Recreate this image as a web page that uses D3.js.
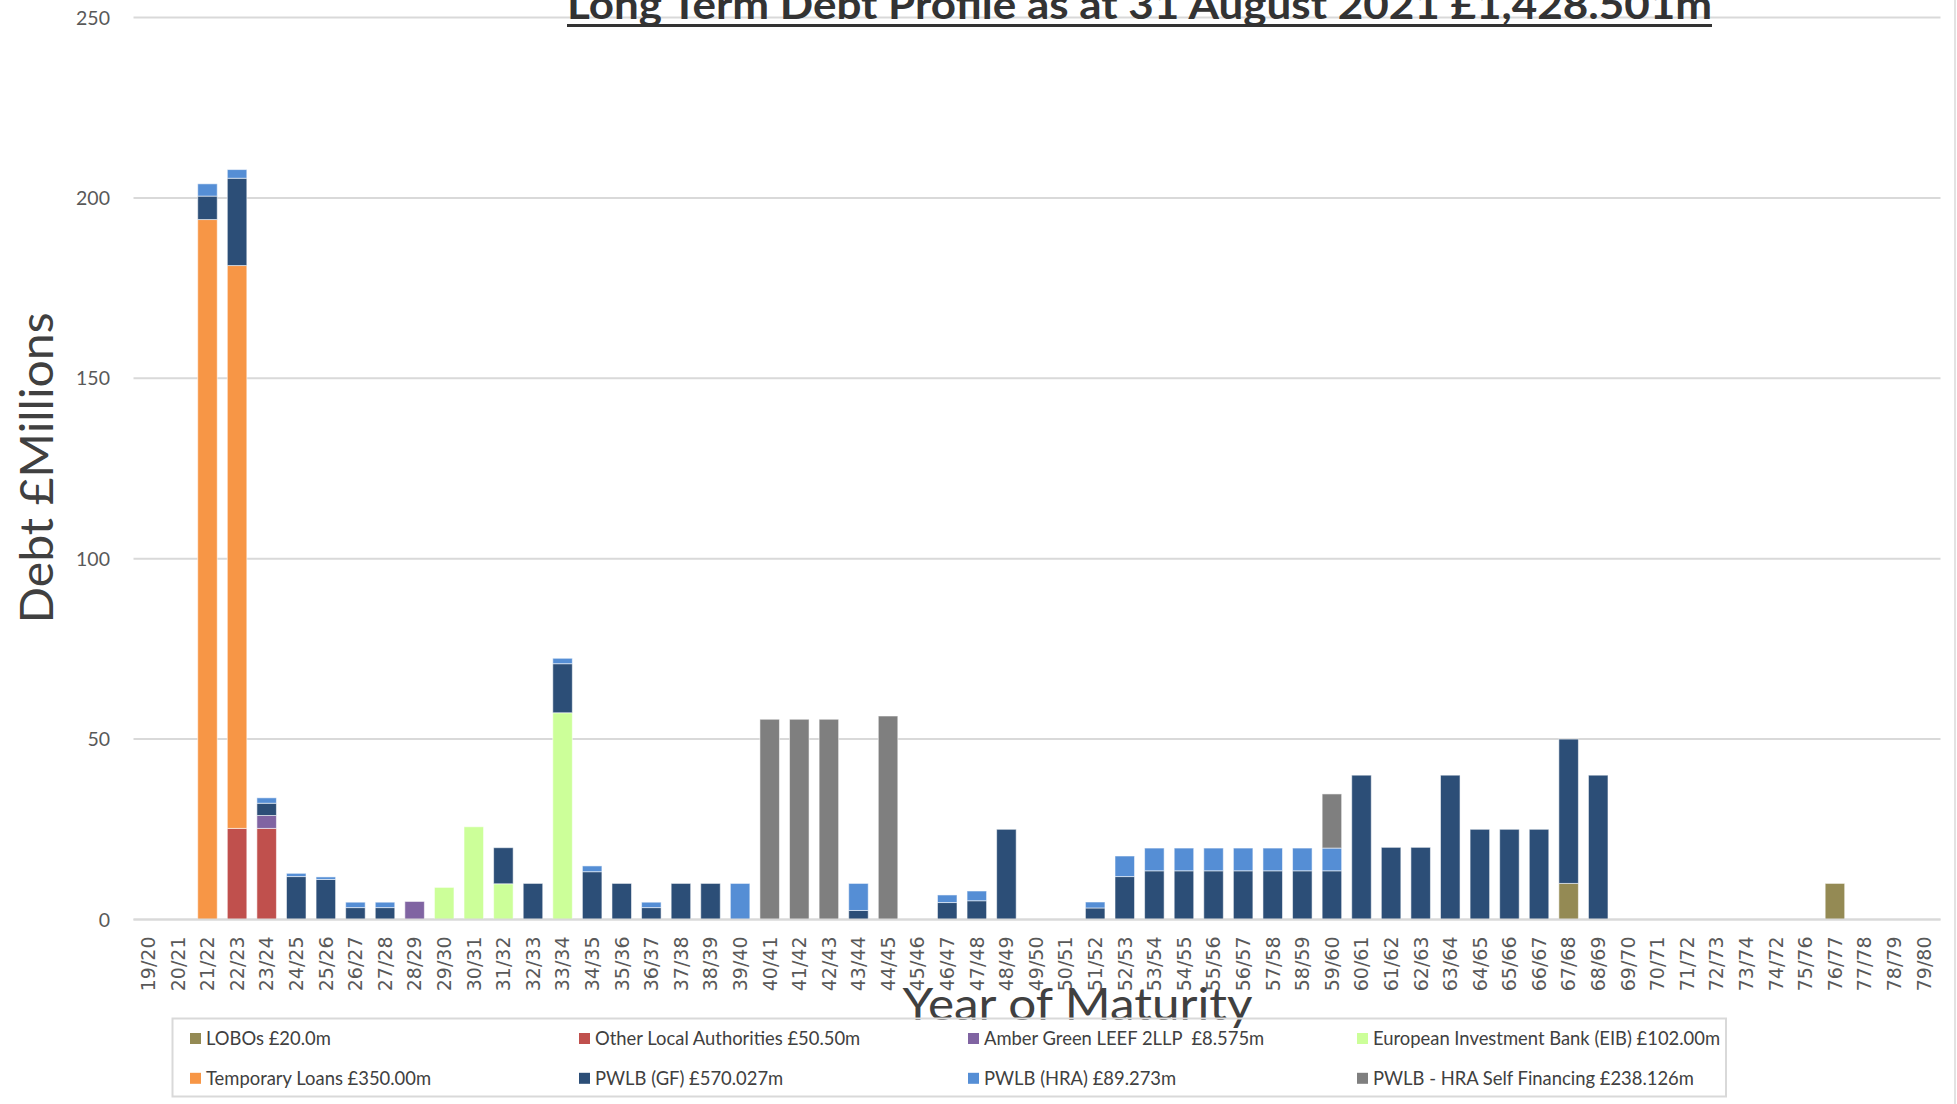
<!DOCTYPE html>
<html>
<head>
<meta charset="utf-8">
<script src="https://cdn.jsdelivr.net/npm/d3@7"></script>
<style>
  body { margin: 0; background: #fff; }
  svg { display: block; }
</style>
</head>
<body>
<div id="chart"></div>
<script>
// year of maturity (tick labels as printed, including the "74/72" typo)
const categories = [
  "19/20", "20/21", "21/22", "22/23", "23/24", "24/25", "25/26", "26/27", "27/28", "28/29",
  "29/30", "30/31", "31/32", "32/33", "33/34", "34/35", "35/36", "36/37", "37/38", "38/39",
  "39/40", "40/41", "41/42", "42/43", "43/44", "44/45", "45/46", "46/47", "47/48", "48/49",
  "49/50", "50/51", "51/52", "52/53", "53/54", "54/55", "55/56", "56/57", "57/58", "58/59",
  "59/60", "60/61", "61/62", "62/63", "63/64", "64/65", "65/66", "66/67", "67/68", "68/69",
  "69/70", "70/71", "71/72", "72/73", "73/74", "74/72", "75/76", "76/77", "77/78", "78/79",
  "79/80"
]

// £m per year, same order as categories (rows of 10)
const lobos = [
  0, 0, 0, 0, 0, 0, 0, 0, 0, 0,
  0, 0, 0, 0, 0, 0, 0, 0, 0, 0,
  0, 0, 0, 0, 0, 0, 0, 0, 0, 0,
  0, 0, 0, 0, 0, 0, 0, 0, 0, 0,
  0, 0, 0, 0, 0, 0, 0, 0, 10, 0,
  0, 0, 0, 0, 0, 0, 0, 10, 0, 0,
  0
]
const otherLocalAuthorities = [
  0, 0, 0, 25.25, 25.25, 0, 0, 0, 0, 0,
  0, 0, 0, 0, 0, 0, 0, 0, 0, 0,
  0, 0, 0, 0, 0, 0, 0, 0, 0, 0,
  0, 0, 0, 0, 0, 0, 0, 0, 0, 0,
  0, 0, 0, 0, 0, 0, 0, 0, 0, 0,
  0, 0, 0, 0, 0, 0, 0, 0, 0, 0,
  0
]
const amberGreen = [
  0, 0, 0, 0, 3.575, 0, 0, 0, 0, 5.0,
  0, 0, 0, 0, 0, 0, 0, 0, 0, 0,
  0, 0, 0, 0, 0, 0, 0, 0, 0, 0,
  0, 0, 0, 0, 0, 0, 0, 0, 0, 0,
  0, 0, 0, 0, 0, 0, 0, 0, 0, 0,
  0, 0, 0, 0, 0, 0, 0, 0, 0, 0,
  0
]
const eib = [
  0, 0, 0, 0, 0, 0, 0, 0, 0, 0,
  8.9, 25.7, 9.9, 0, 57.3, 0, 0, 0, 0, 0,
  0, 0, 0, 0, 0, 0, 0, 0, 0, 0,
  0, 0, 0, 0, 0, 0, 0, 0, 0, 0,
  0, 0, 0, 0, 0, 0, 0, 0, 0, 0,
  0, 0, 0, 0, 0, 0, 0, 0, 0, 0,
  0
]
const temporaryLoans = [
  0, 0, 194, 156, 0, 0, 0, 0, 0, 0,
  0, 0, 0, 0, 0, 0, 0, 0, 0, 0,
  0, 0, 0, 0, 0, 0, 0, 0, 0, 0,
  0, 0, 0, 0, 0, 0, 0, 0, 0, 0,
  0, 0, 0, 0, 0, 0, 0, 0, 0, 0,
  0, 0, 0, 0, 0, 0, 0, 0, 0, 0,
  0
]
const pwlbGF = [
  0, 0, 6.5, 24.2, 3.4, 11.9, 11.1, 3.3, 3.3, 0,
  0, 0, 10, 10, 13.6, 13.25, 10, 3.3, 10, 10,
  0, 0, 0, 0, 2.5, 0, 0, 4.7, 5.2, 25,
  0, 0, 3.2, 11.9, 13.5, 13.5, 13.5, 13.5, 13.5, 13.5,
  13.5, 40, 20, 20, 40, 25, 25, 25, 40, 40,
  0, 0, 0, 0, 0, 0, 0, 0, 0, 0,
  0
]
const pwlbHRA = [
  0, 0, 3.4, 2.4, 1.5, 0.9, 0.7, 1.5, 1.5, 0,
  0, 0, 0, 0, 1.5, 1.6, 0, 1.5, 0, 0,
  10, 0, 0, 0, 7.5, 0, 0, 2.1, 2.7, 0,
  0, 0, 1.65, 5.7, 6.3, 6.3, 6.3, 6.3, 6.3, 6.3,
  6.3, 0, 0, 0, 0, 0, 0, 0, 0, 0,
  0, 0, 0, 0, 0, 0, 0, 0, 0, 0,
  0
]
const hraSelfFinancing = [
  0, 0, 0, 0, 0, 0, 0, 0, 0, 0,
  0, 0, 0, 0, 0, 0, 0, 0, 0, 0,
  0, 55.5, 55.5, 55.5, 0, 56.4, 0, 0, 0, 0,
  0, 0, 0, 0, 0, 0, 0, 0, 0, 0,
  15, 0, 0, 0, 0, 0, 0, 0, 0, 0,
  0, 0, 0, 0, 0, 0, 0, 0, 0, 0,
  0
]

const seriesKeys = ["lobos", "otherLA", "amber", "eib", "temporary", "gf", "hra", "selfFin"]
const seriesValues = [lobos, otherLocalAuthorities, amberGreen, eib, temporaryLoans, pwlbGF, pwlbHRA, hraSelfFinancing]
const seriesLabels = [
  "LOBOs £20.0m",
  "Other Local Authorities £50.50m",
  "Amber Green LEEF 2LLP  £8.575m",
  "European Investment Bank (EIB) £102.00m",
  "Temporary Loans £350.00m",
  "PWLB (GF) £570.027m",
  "PWLB (HRA) £89.273m",
  "PWLB - HRA Self Financing £238.126m"
]
const seriesColors = ["#948a54", "#c0504d", "#8064a2", "#ccff99", "#f79646", "#2c4e77", "#558ed5", "#7f7f7f"]
const yTicks = [0, 50, 100, 150, 200, 250]

const W = 1957, H = 1104
const plot = {left: 133.5, right: 1938.5, top: 17.5, bottom: 919.5}

const svg = d3.select("#chart")
  .append("svg")
    .attr("width", W)
    .attr("height", H)

// table for the stack
const table = categories.map((c, i) => {
  const row = {year: c}
  seriesKeys.forEach((k, j) => row[k] = seriesValues[j][i])
  return row
})

const x = d3.scaleBand()
  .domain(categories)
  .range([plot.left, plot.right])
  .paddingInner(0.34)
  .paddingOuter(0.17)

const y = d3.scaleLinear()
  .domain([0, 250])
  .range([plot.bottom, plot.top])

const color = d3.scaleOrdinal()
  .domain(seriesKeys)
  .range(seriesColors)

// gridlines
svg.append("g")
  .selectAll("line")
  .data(yTicks)
  .join("line")
    .attr("x1", plot.left)
    .attr("x2", plot.right + 2)
    .attr("y1", d => y(d))
    .attr("y2", d => y(d))
    .attr("stroke", "#d9d9d9")
    .attr("stroke-width", 2)

// y tick labels
svg.append("g")
  .selectAll("text")
  .data(yTicks)
  .join("text")
    .attr("x", 110)
    .attr("y", d => y(d))
    .attr("dy", "0.36em")
    .attr("text-anchor", "end")
    .attr("font-family", "Lato, 'Open Sans', sans-serif")
    .attr("font-size", 19.5)
    .attr("fill", "#595959")
    .text(d => d)

// stacked bars
const stacked = d3.stack().keys(seriesKeys)(table)

svg.append("g")
  .selectAll("g")
  .data(stacked)
  .join("g")
    .attr("fill", d => color(d.key))
  .selectAll("rect")
  .data(d => d.filter(s => s[1] - s[0] > 0))
  .join("rect")
    .attr("x", d => x(d.data.year))
    .attr("y", d => y(d[1]))
    .attr("width", x.bandwidth())
    .attr("height", d => y(d[0]) - y(d[1]))
    .attr("stroke", "#ffffff")
    .attr("stroke-opacity", 0.55)
    .attr("stroke-width", 1)

// x axis
const xAxis = svg.append("g")
  .attr("transform", `translate(0,${plot.bottom})`)
  .call(d3.axisBottom(x).tickSize(0))

xAxis.select(".domain").remove()
xAxis.selectAll("text")
  .attr("transform", "rotate(-90)")
  .attr("x", -17)
  .attr("y", 0)
  .attr("dy", "0.36em")
  .attr("text-anchor", "end")
  .attr("font-family", "'DejaVu Sans', sans-serif")
  .attr("font-size", 19)
  .attr("fill", "#595959")

svg.append("line")
  .attr("x1", plot.left)
  .attr("x2", plot.right + 2)
  .attr("y1", plot.bottom)
  .attr("y2", plot.bottom)
  .attr("stroke", "#d9d9d9")
  .attr("stroke-width", 2)

// title (sits partly above the frame, as in the original)
svg.append("text")
  .attr("x", 1139.5)
  .attr("y", 18.5)
  .attr("text-anchor", "middle")
  .attr("font-family", "Lato, sans-serif")
  .attr("font-weight", "bold")
  .attr("font-size", 40)
  .attr("fill", "#333333")
  .attr("textLength", 1145)
  .attr("lengthAdjust", "spacingAndGlyphs")
  .text("Long Term Debt Profile as at 31 August 2021 £1,428.501m")

svg.append("line")
  .attr("x1", 567)
  .attr("x2", 1712)
  .attr("y1", 25.5)
  .attr("y2", 25.5)
  .attr("stroke", "#333333")
  .attr("stroke-width", 3)

// axis titles
svg.append("text")
  .attr("transform", "translate(53,468) rotate(-90)")
  .attr("text-anchor", "middle")
  .attr("font-family", "Lato, sans-serif")
  .attr("font-size", 46)
  .attr("fill", "#404040")
  .attr("textLength", 311)
  .attr("lengthAdjust", "spacingAndGlyphs")
  .text("Debt £Millions")

svg.append("text")
  .attr("x", 1077.5)
  .attr("y", 1019.5)
  .attr("text-anchor", "middle")
  .attr("font-family", "Lato, sans-serif")
  .attr("font-size", 44)
  .attr("fill", "#404040")
  .attr("textLength", 350)
  .attr("lengthAdjust", "spacingAndGlyphs")
  .text("Year of Maturity")

// legend
const legend = svg.append("g")

legend.append("rect")
  .attr("x", 172.5)
  .attr("y", 1018.5)
  .attr("width", 1553.5)
  .attr("height", 78)
  .attr("fill", "none")
  .attr("stroke", "#d9d9d9")
  .attr("stroke-width", 2)

const legendItem = legend.selectAll("g.item")
  .data(seriesKeys)
  .join("g")
    .attr("class", "item")
    .attr("transform", (d, i) => `translate(${190 + (i % 4) * 389},${i < 4 ? 1038.5 : 1078.3})`)

legendItem.append("rect")
  .attr("x", 0)
  .attr("y", -5.5)
  .attr("width", 11)
  .attr("height", 11)
  .attr("fill", d => color(d))

legendItem.append("text")
  .attr("x", 16)
  .attr("dy", "0.36em")
  .attr("font-family", "Lato, sans-serif")
  .attr("font-size", 18.4)
  .attr("fill", "#404040")
  .style("white-space", "pre")
  .text((d, i) => seriesLabels[i])

// frame edge on the right
svg.append("line")
  .attr("x1", 1955)
  .attr("x2", 1955)
  .attr("y1", 0)
  .attr("y2", H)
  .attr("stroke", "#d9d9d9")
  .attr("stroke-width", 1.5)
</script>
</body>
</html>
